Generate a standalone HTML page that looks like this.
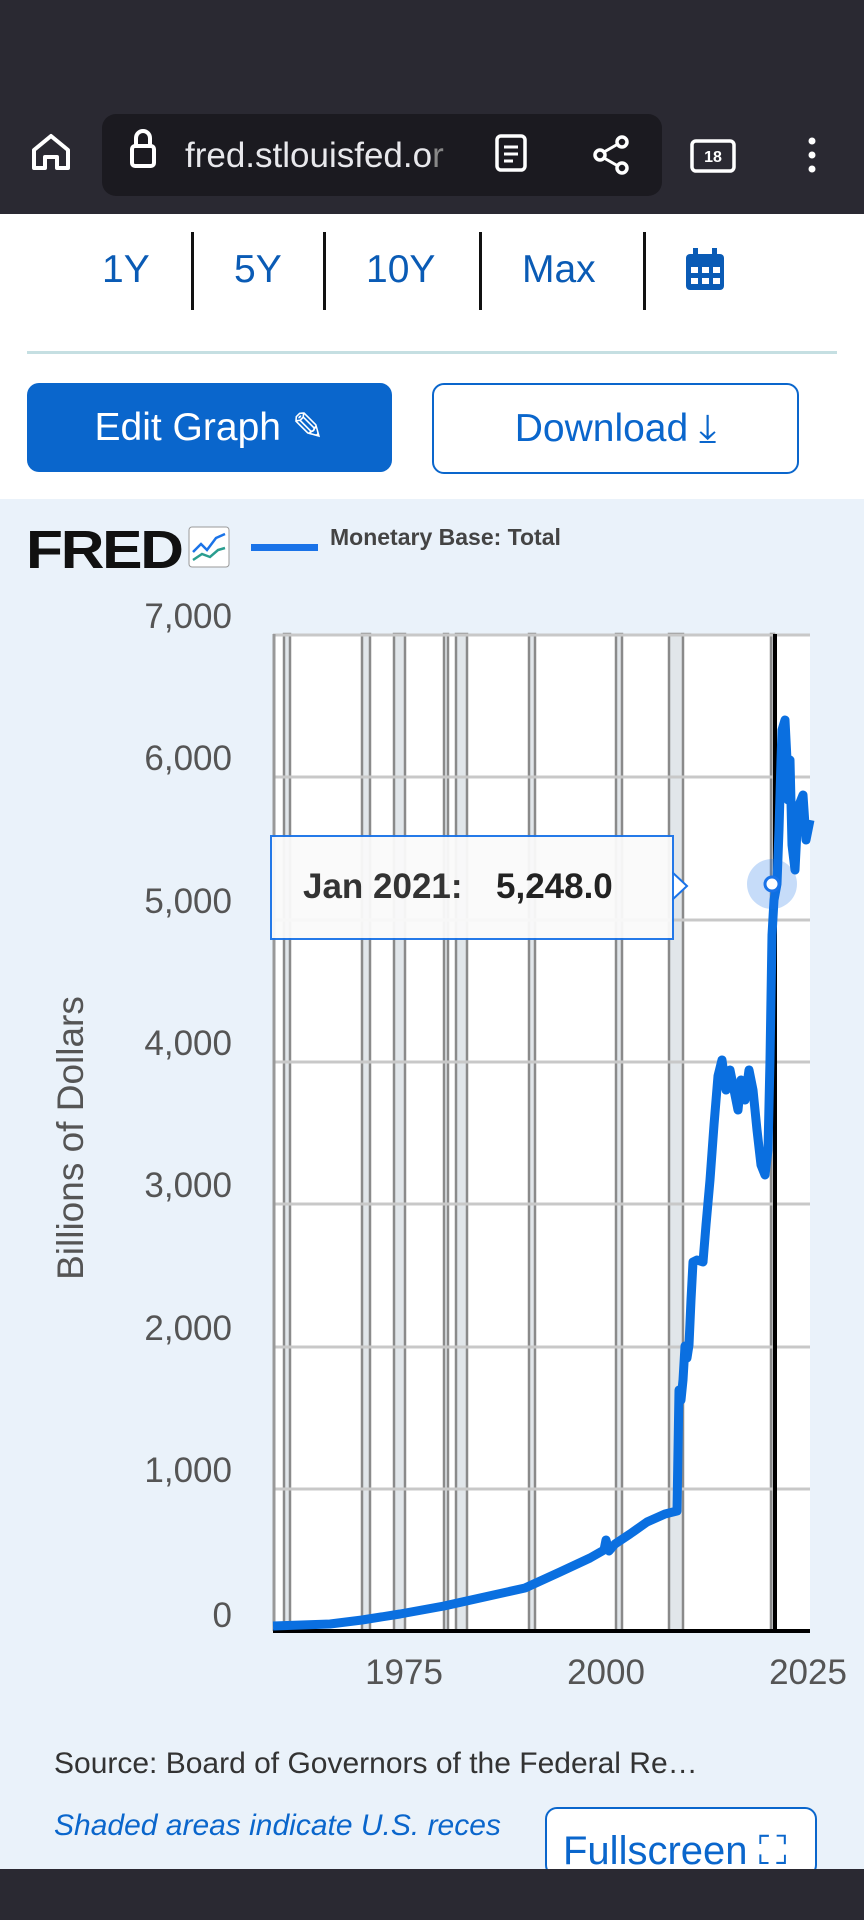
<!DOCTYPE html>
<html><head><meta charset="utf-8"><style>
body{margin:0;width:864px;height:1920px;background:#fff;font-family:"Liberation Sans",sans-serif;position:relative;overflow:hidden}
.abs{position:absolute}
</style></head><body>
<div class="abs" style="left:0;top:0;width:864px;height:214px;background:#2a2932"></div>
<div class="abs" style="left:102px;top:114px;width:560px;height:82px;background:#1b1a20;border-radius:14px"></div>
<svg class="abs" style="left:0;top:120px" width="864" height="70">
<path d="M34 48 V30 L51 16 L68 30 V48 H57 V37 H45 V48 Z" fill="none" stroke="#fff" stroke-width="4" stroke-linejoin="round"/>
<rect x="132" y="26" width="22" height="20" rx="3" fill="none" stroke="#fff" stroke-width="4"/>
<path d="M136 26 V18 a7 7 0 0 1 14 0 V26" fill="none" stroke="#fff" stroke-width="4"/>
<rect x="497" y="16" width="28" height="34" rx="4" fill="none" stroke="#fff" stroke-width="3.5"/>
<path d="M504 27 H518 M504 34 H518 M504 41 H513" stroke="#fff" stroke-width="3"/>
<circle cx="600" cy="35" r="5" fill="none" stroke="#fff" stroke-width="3.5"/><circle cx="622" cy="22" r="5" fill="none" stroke="#fff" stroke-width="3.5"/><circle cx="622" cy="48" r="5" fill="none" stroke="#fff" stroke-width="3.5"/>
<path d="M604 32 L618 24 M604 38 L618 46" stroke="#fff" stroke-width="3"/>
<rect x="692" y="21" width="42" height="30" rx="4" fill="none" stroke="#fff" stroke-width="3.5"/>
<text x="713" y="42" fill="#fff" font-size="16" font-weight="bold" text-anchor="middle">18</text>
<circle cx="812" cy="21" r="3.5" fill="#fff"/><circle cx="812" cy="35" r="3.5" fill="#fff"/><circle cx="812" cy="49" r="3.5" fill="#fff"/>
</svg>
<div class="abs" style="left:185px;top:136px;color:#e8e8ec;font-size:35px">fred.stlouisfed.o<span style="color:#888">r</span></div>
<div class="abs" style="left:0;top:248px;width:864px;font-size:39px;color:#0a5bb5">
<span class="abs" style="left:102px">1Y</span><span class="abs" style="left:234px">5Y</span><span class="abs" style="left:366px">10Y</span><span class="abs" style="left:522px">Max</span></div>
<div class="abs" style="left:191px;top:232px;width:3px;height:78px;background:#111"></div>
<div class="abs" style="left:323px;top:232px;width:3px;height:78px;background:#111"></div>
<div class="abs" style="left:479px;top:232px;width:3px;height:78px;background:#111"></div>
<div class="abs" style="left:643px;top:232px;width:3px;height:78px;background:#111"></div>
<svg class="abs" style="left:684px;top:248px" width="42" height="44"><rect x="2" y="6" width="38" height="36" rx="4" fill="#0a5bb5"/><rect x="9" y="0" width="5" height="10" fill="#0a5bb5"/><rect x="28" y="0" width="5" height="10" fill="#0a5bb5"/><g fill="#fff"><rect x="7" y="19" width="7" height="6"/><rect x="18" y="19" width="7" height="6"/><rect x="29" y="19" width="7" height="6"/><rect x="7" y="30" width="7" height="6"/><rect x="18" y="30" width="7" height="6"/><rect x="29" y="30" width="7" height="6"/></g></svg>
<div class="abs" style="left:27px;top:351px;width:810px;height:3px;background:#c5dfe2"></div>
<div class="abs" style="left:27px;top:383px;width:365px;height:89px;background:#0a66cc;border-radius:12px;color:#fff;font-size:39px;line-height:89px;text-align:center">Edit Graph ✎</div>
<div class="abs" style="left:432px;top:383px;width:363px;height:87px;border:2px solid #0a66cc;border-radius:12px;color:#0a66cc;font-size:39px;line-height:87px;text-align:center">Download ⤓</div>
<div class="abs" style="left:0;top:499px;width:864px;height:1370px;background:#eaf2fa"></div>
<div class="abs" style="left:26px;top:519px;font-size:54px;font-weight:900;color:#111;letter-spacing:-2px;transform:scaleX(1.12);transform-origin:left">FRED</div>
<svg class="abs" style="left:188px;top:526px" width="42" height="42"><rect x="1" y="1" width="40" height="40" rx="3" fill="#fff" stroke="#999"/><path d="M5 26 L13 18 L19 24 L28 12 L37 8" fill="none" stroke="#1a73e8" stroke-width="2.5"/><path d="M5 34 L14 28 L22 31 L30 24 L37 22" fill="none" stroke="#2a9d8f" stroke-width="2.5"/></svg>
<div class="abs" style="left:251px;top:544px;width:67px;height:7px;background:#1a73e8"></div>
<div class="abs" style="left:330px;top:524px;font-size:23px;font-weight:bold;color:#444">Monetary Base: Total</div>
<svg class="abs" style="left:0;top:0" width="864" height="1920">
<rect x="273" y="634" width="537" height="997" fill="#fff"/>
<g fill="#e1e6ea" stroke="#8a8a8a" stroke-width="2.5">
<rect x="284" y="634" width="6" height="997"/><rect x="362" y="634" width="8" height="997"/><rect x="394" y="634" width="11" height="997"/><rect x="444" y="634" width="4" height="997"/><rect x="456" y="634" width="11" height="997"/><rect x="529" y="634" width="6" height="997"/><rect x="616" y="634" width="6" height="997"/><rect x="669" y="634" width="14" height="997"/><rect x="771" y="634" width="3" height="997"/>
</g>
<g stroke="#c8c8c8" stroke-width="3">
<line x1="273" y1="635" x2="810" y2="635"/><line x1="273" y1="777" x2="810" y2="777"/><line x1="273" y1="920" x2="810" y2="920"/><line x1="273" y1="1062" x2="810" y2="1062"/><line x1="273" y1="1204" x2="810" y2="1204"/><line x1="273" y1="1347" x2="810" y2="1347"/><line x1="273" y1="1489" x2="810" y2="1489"/>
</g>
<line x1="274" y1="634" x2="274" y2="1631" stroke="#999" stroke-width="3"/>
<line x1="775" y1="634" x2="775" y2="1631" stroke="#000" stroke-width="4"/>
<line x1="273" y1="1631" x2="810" y2="1631" stroke="#000" stroke-width="4"/>
<g font-size="35" fill="#555" text-anchor="end">
<text x="232" y="628">7,000</text><text x="232" y="770">6,000</text><text x="232" y="913">5,000</text><text x="232" y="1055">4,000</text><text x="232" y="1197">3,000</text><text x="232" y="1340">2,000</text><text x="232" y="1482">1,000</text><text x="232" y="1627">0</text>
</g>
<g font-size="35" fill="#555" text-anchor="middle"><text x="404" y="1684">1975</text><text x="606" y="1684">2000</text><text x="808" y="1684">2025</text></g>
<text transform="translate(83,1138) rotate(-90)" font-size="37" fill="#555" text-anchor="middle">Billions of Dollars</text>
<polyline fill="none" stroke="#0a6fe0" stroke-width="9" stroke-linejoin="round" points="273,1626 330,1624 362,1620 400,1614 444,1606 480,1598 525,1588 560,1572 590,1558 604,1550 606,1540 609,1551 615,1544 630,1534 647,1522 665,1514 677,1511 679,1390 681,1400 683,1380 685,1346 687,1358 689,1345 691,1300 693,1262 697,1260 703,1262 706,1225 710,1180 714,1125 718,1076 722,1060 726,1090 730,1070 734,1090 738,1110 741,1080 745,1100 749,1070 753,1090 757,1130 761,1165 765,1175 768,1150 770,1060 772,935 774,900 777,884 779,830 781,760 782,730 785,720 787,760 788,800 790,760 792,845 795,870 797,830 799,805 803,795 806,840 810,820"/>
<circle cx="772" cy="884" r="25" fill="#1a73e8" opacity="0.25"/>
<circle cx="772" cy="884" r="7" fill="#fff" stroke="#1a73e8" stroke-width="3"/>
<path d="M672 872 L687 886 L672 900" fill="#fff" stroke="#1a73e8" stroke-width="2"/>
<rect x="271" y="836" width="402" height="103" fill="#fafafa" stroke="#1a73e8" stroke-width="2" opacity="0.95"/>
<text x="303" y="898" font-size="35" font-weight="bold" fill="#333">Jan 2021:</text>
<text x="496" y="898" font-size="35" font-weight="bold" fill="#222">5,248.0</text>
</svg>
<div class="abs" style="left:54px;top:1747px;font-size:30px;color:#333">Source: Board of Governors of the Federal Re…</div>
<div class="abs" style="left:54px;top:1809px;font-size:30px;color:#0a66cc;font-style:italic">Shaded areas indicate U.S. reces</div>
<div class="abs" style="left:545px;top:1807px;width:272px;height:70px;background:#fff;border:2px solid #0a66cc;border-radius:12px;color:#0a66cc;font-size:40px;line-height:84px;padding-left:16px;box-sizing:border-box">Fullscreen ⛶</div>
<div class="abs" style="left:0;top:1869px;width:864px;height:51px;background:#2a2932"></div>
</body></html>
